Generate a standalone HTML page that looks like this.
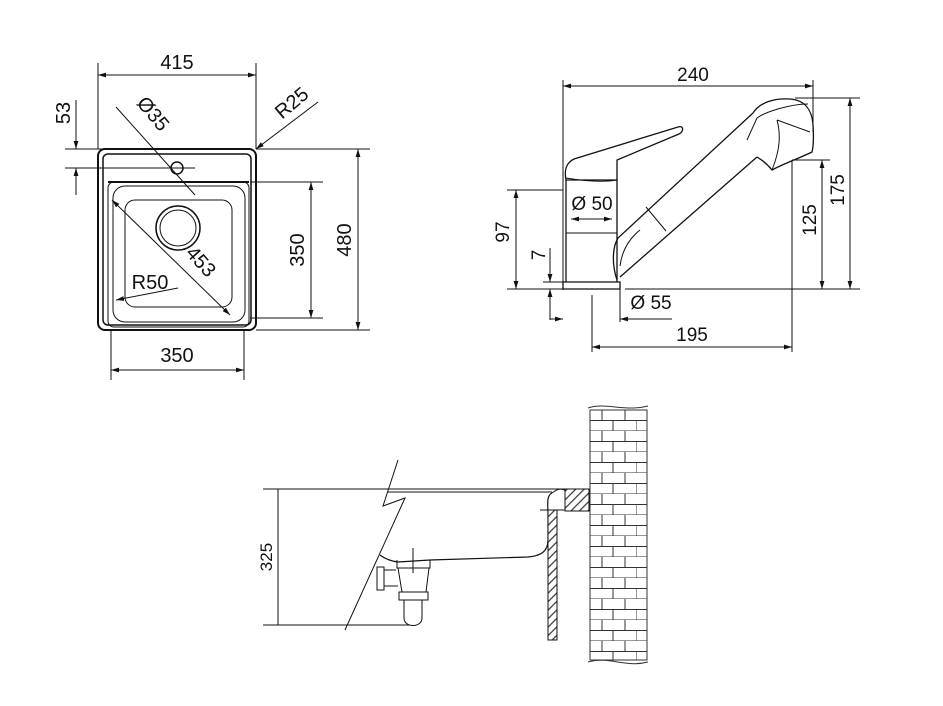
<!DOCTYPE html>
<html><head><meta charset="utf-8"><style>html,body{margin:0;padding:0;background:#fff}svg{display:block}text{font-family:"Liberation Sans",Arial,sans-serif;fill:#111}</style></head><body>
<svg width="943" height="706" viewBox="0 0 943 706" xmlns="http://www.w3.org/2000/svg">
<defs>
<marker id="a" viewBox="0 0 10 10" refX="10" refY="5" markerWidth="8" markerHeight="8" orient="auto-start-reverse"><path d="M0,2 L10,5 L0,8 z" fill="#111"/></marker>
<pattern id="br" x="590" y="410" width="46" height="21" patternUnits="userSpaceOnUse">
<rect width="46" height="21" fill="#fff"/>
<path d="M0,10.5H46M0,21H46M12,0V10.5M35,0V10.5M0,10.5V21M23,10.5V21" stroke="#333" stroke-width="1" fill="none"/>
</pattern>
<pattern id="h" width="6" height="6" patternUnits="userSpaceOnUse" patternTransform="rotate(-45)"><rect width="6" height="6" fill="#fff"/><line x1="0" y1="3" x2="6" y2="3" stroke="#333" stroke-width="1.2"/></pattern>
</defs>
<g fill="none" stroke="#111" stroke-width="1">
<!-- Sink top view -->
<rect x="98" y="149" width="158" height="181" rx="7" stroke-width="2"/>
<rect x="103" y="154" width="148" height="171" rx="5" stroke-width="1.5"/>
<path d="M108,182 H249" stroke-width="2"/>
<rect x="108" y="182" width="141" height="145" rx="6"/>
<rect x="113" y="186" width="132" height="136" rx="12"/>
<rect x="125" y="200" width="107" height="107" rx="10"/>
<circle cx="178" cy="228" r="22" stroke-width="1.5"/>
<circle cx="178" cy="228" r="18"/>
<circle cx="177" cy="168" r="6" stroke-width="1.5"/>
<!-- dims -->
<path d="M98,63V149M256,63V149"/>
<path d="M98,75H256" marker-start="url(#a)" marker-end="url(#a)"/>
<path d="M65,149H195M65,168H195"/>
<path d="M76,100V149" marker-end="url(#a)"/><path d="M76,195V168" marker-end="url(#a)"/>
<path d="M116,107L195,195"/>
<path d="M318,102L256,149" marker-end="url(#a)"/>
<path d="M250,182H323M250,318H323"/>
<path d="M311,182V318" marker-start="url(#a)" marker-end="url(#a)"/>
<path d="M256,149H370M256,330H370"/>
<path d="M358,149V330" marker-start="url(#a)" marker-end="url(#a)"/>
<path d="M111,330V380M244,330V380"/>
<path d="M111,370H244" marker-start="url(#a)" marker-end="url(#a)"/>
<path d="M112,200L230,315" marker-start="url(#a)" marker-end="url(#a)"/>
<path d="M178,288L116,300" marker-end="url(#a)"/>
<!-- Faucet -->
<path d="M563,80V290M813,80V132"/>
<path d="M563,86H813" marker-start="url(#a)" marker-end="url(#a)"/>
<path d="M563,282H620V289H563Z" stroke-width="1.3"/>
<path d="M566,282V180H617V282" stroke-width="1.3"/>
<path d="M566,233H617"/>
<path d="M566,180C564,170 566,163 574,159L678,127C684,125 684,132 679,134L617,160V180" stroke-width="1.3"/>
<path d="M566,178C590,182 605,182 617,180"/>
<!-- spout -->
<path d="M617,280C612,265 612,248 618,238L753,113" stroke-width="1.3"/>
<path d="M620,277L757,157" stroke-width="1.3"/>
<path d="M753,113C760,102 775,98 790,99C805,100 812,110 813,125C814,140 813,148 812,152C800,158 785,163 772,170C768,165 762,160 757,157" stroke-width="1.3"/>
<path d="M757,118C765,112 790,104 808,104M777,120C781,135 780,150 772,170M757,118L747,140M777,120L810,132"/>
<path d="M646,207L666,231M620,266C622,250 630,238 640,230"/>
<path d="M507,190H563M507,289H563"/>
<path d="M516,190V289" marker-start="url(#a)" marker-end="url(#a)"/>
<path d="M550,248V282" marker-end="url(#a)"/><path d="M550,320V289" marker-end="url(#a)"/>
<path d="M543,282H563"/>
<path d="M571,219H612" marker-start="url(#a)" marker-end="url(#a)"/>
<path d="M550,319H563" marker-end="url(#a)"/><path d="M672,319H620" marker-end="url(#a)"/>
<path d="M620,289V322M592,295V352"/>
<path d="M592,347H792" marker-start="url(#a)" marker-end="url(#a)"/>
<path d="M792,160V352"/>
<path d="M625,289H860M795,98H860M792,160H830"/>
<path d="M822,160V289" marker-start="url(#a)" marker-end="url(#a)"/>
<path d="M850,98V289" marker-start="url(#a)" marker-end="url(#a)"/>
<!-- Section -->
<path d="M263,489H568M263,625H410M278,489V625"/>
<path d="M388,492H552"/>
<path d="M398,460L383,506L405,498L345,630"/>
<path d="M552,493C546,496 548,505 548,515V540C548,552 540,556 528,557L430,560L398,562C390,561 384,558 380,555" stroke-width="1.2"/>
<path d="M568,489V493C562,486 556,490 552,493"/>
<path d="M397,560V568H430V560M398,568L402,592H426L429,568M399,592H428V600H399ZM404,600V618C404,628 422,628 422,618V600M413,548V573"/>
<path d="M377,567H384V590H377ZM384,570H396M384,586H398"/>
<rect x="548" y="510" width="9" height="130" fill="url(#h)"/>
<rect x="565" y="489" width="24" height="22" fill="url(#h)"/>
<path d="M540,510H565"/>
<rect x="590" y="410" width="57" height="250" fill="url(#br)" stroke="#333"/>
<path d="M588,408C605,402 625,412 648,406M588,662C610,656 625,668 648,662" stroke="#333"/>
</g>
<g font-size="20">
<text x="177" y="69" text-anchor="middle">415</text>
<text transform="translate(70,113) rotate(-90)" text-anchor="middle">53</text>
<text transform="translate(148,118) rotate(50)" text-anchor="middle">Ø35</text>
<text transform="translate(296,108) rotate(-40)" text-anchor="middle">R25</text>
<text transform="translate(304,250) rotate(-90)" text-anchor="middle">350</text>
<text transform="translate(351,240) rotate(-90)" text-anchor="middle">480</text>
<text x="177" y="362" text-anchor="middle">350</text>
<text transform="translate(196,266) rotate(48)" text-anchor="middle">453</text>
<text x="150" y="289" text-anchor="middle">R50</text>
<text x="693" y="81" text-anchor="middle" font-size="19">240</text>
<text transform="translate(509,232) rotate(-90)" text-anchor="middle" font-size="19">97</text>
<text transform="translate(545,255) rotate(-90)" text-anchor="middle" font-size="19">7</text>
<text x="592" y="210" text-anchor="middle" font-size="19">Ø 50</text>
<text x="651" y="309" text-anchor="middle" font-size="19">Ø 55</text>
<text x="692" y="341" text-anchor="middle" font-size="19">195</text>
<text transform="translate(816,220) rotate(-90)" text-anchor="middle" font-size="19">125</text>
<text transform="translate(844,190) rotate(-90)" text-anchor="middle" font-size="19">175</text>
<text transform="translate(272,557) rotate(-90)" text-anchor="middle" font-size="17" fill="#333">325</text>
</g>
</svg>
</body></html>
